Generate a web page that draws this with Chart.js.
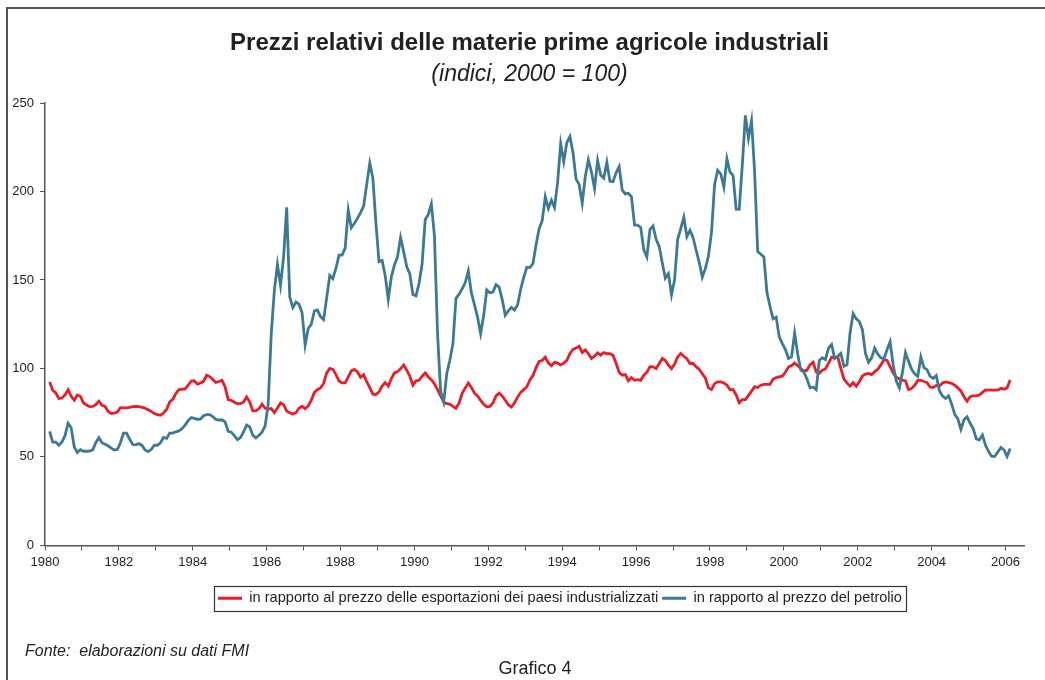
<!DOCTYPE html>
<html lang="it">
<head>
<meta charset="utf-8">
<title>Prezzi relativi delle materie prime agricole industriali</title>
<script src="https://cdn.jsdelivr.net/npm/chart.js@4.4.1/dist/chart.umd.min.js"></script>
<style>
  body { margin: 0; background: #fff; }
  #wrap { position: relative; width: 1045px; height: 680px; overflow: hidden; font-family: "Liberation Sans", Arial, Helvetica, sans-serif; color: #222; }
  #frame { position: absolute; left: 6px; top: 7px; width: 1100px; height: 700px; border-top: 2px solid #555; border-left: 2px solid #555; }
  #fonte { position: absolute; left: 25px; top: 641px; font-size: 16px; line-height: 20px; font-style: italic; white-space: pre; }
  #grafico { position: absolute; left: 435px; top: 658px; width: 200px; text-align: center; font-size: 18px; line-height: 20px; }
</style>
</head>
<body>
<div id="wrap">
  <canvas id="chart" width="1045" height="680"></canvas>
  <div id="frame"></div>
  <div id="fonte">Fonte:  elaborazioni su dati FMI</div>
  <div id="grafico">Grafico 4</div>
</div>
<script>
// dati mensili, da febbraio 1980 a febbraio 2006
const startYear = 1980;
const startMonth = 1; // 0 = gennaio

const labelYears = [1980, 1982, 1984, 1986, 1988, 1990, 1992, 1994, 1996, 1998, 2000, 2002, 2004, 2006];

const seriesNames = [
  'in rapporto al prezzo delle esportazioni dei paesi industrializzati',
  'in rapporto al prezzo del petrolio',
];

const vsExports = [
  92.4, 87.7, 86.2, 83, 83.3, 85, 88, 84.3, 82, 85,
  84.3, 80.5, 79.3, 78.4, 78.5, 79.5, 81.5, 79.2, 78.5, 75.7,
  74.5, 74.8, 75.3, 77.8, 77.7, 77.7, 78, 78.4, 78.6, 78.4,
  78, 77.5, 76.6, 75.7, 74.5, 73.9, 73.6, 74.8, 76.8, 81,
  82.5, 85.8, 88, 88.2, 88.4, 90.5, 92.8, 93, 91.2, 91.8,
  92.7, 96.2, 95.4, 93.8, 92.1, 92.6, 93.3, 89.6, 82.4, 82,
  80.9, 80.1, 80.1, 81, 83.9, 81, 76, 76, 77.3, 79.8,
  77.5, 77, 77.3, 75, 77.7, 80.5, 79.5, 76, 74.9, 74.2,
  75, 77.5, 78.6, 77.3, 78.8, 82, 86.5, 88, 89, 91.5,
  97.5, 100, 99.5, 96.5, 92.9, 91.8, 91.8, 95.2, 98.6, 99.4,
  98, 95, 96.5, 92.5, 89.2, 85.5, 85.3, 86.8, 90, 92,
  90, 94.3, 97.5, 98.3, 99.8, 102, 99, 95.6, 90.5, 93,
  93.3, 95.6, 97.5, 95.2, 93.6, 91.3, 88, 84.5, 81, 80.1,
  79.8, 78.6, 77.5, 80.5, 86, 89, 91.8, 89.3, 86, 84.5,
  82, 79.8, 78.3, 78.5, 80.5, 84.5, 86, 84.5, 82, 79.5,
  78.2, 80.5, 83.8, 86.5, 88, 89.5, 93.5, 96, 100.5, 104,
  104.5, 106.4, 103, 101.5, 103.5, 103, 102, 103, 104.5, 108.5,
  110.7, 111.5, 112.5, 109, 110.5, 108.3, 105.6, 106.9, 108.8, 107.5,
  109, 108.3, 108.4, 107.5, 103, 97.7, 96.2, 96.5, 93, 94.8,
  93.3, 93.7, 93.3, 96.2, 97.8, 101, 100.9, 99.9, 102.8, 105.6,
  104.5, 101.8, 99.9, 102.5, 106.5, 108.5, 106.9, 105.5, 102.8, 102.8,
  101, 99.5, 97, 94.5, 89, 88, 91.4, 92.4, 92.4, 91.8,
  90.5, 88, 88, 85, 80.6, 82.4, 82.4, 84.8, 87.2, 89.7,
  89.2, 90.5, 91, 91, 91, 94, 94.8, 95.2, 95.6, 97.8,
  100.8, 101.6, 103, 101.5, 100, 98.5, 99, 102, 103.5, 98,
  97.2, 99, 99.7, 103, 106.3, 106, 106.5, 100, 94, 91.8,
  90, 92, 90, 92.5, 95.7, 96.8, 97.2, 96.5, 98.2, 99.5,
  102, 105, 104.5, 101, 97.5, 95, 94.2, 93.4, 93, 88,
  88.7, 90.5, 93.2, 93.3, 92.6, 92, 89.5, 89.2, 90.4, 90,
  91.8, 92.4, 92, 91.6, 90.5, 89, 87.3, 84, 81.5, 84,
  84.5, 84.5, 85, 86.5, 87.8, 87.7, 87.7, 87.7, 87.7, 88.8,
  88.2, 89, 93.5,
];

const vsOil = [
  64.5, 58.4, 58.4, 56.6, 58.4, 62, 69, 66.5, 55.6, 52.5,
  54.1, 53.2, 53.2, 53.3, 54, 58, 60.9, 58, 57.2, 56.3,
  55, 53.9, 54.2, 58, 63.5, 63.5, 60, 57, 56.8, 57.5,
  56.5, 54, 53, 54.2, 56.6, 56.6, 58, 61, 60.5, 63.5,
  63.5, 64.2, 64.7, 66, 68, 70.5, 72.3, 71.8, 71.3, 71.4,
  73.3, 73.9, 73.9, 72.8, 71.2, 70.8, 71, 69.8, 64.5, 64,
  62, 59.8, 61, 64.1, 68, 67, 62.3, 60.8, 62.2, 64,
  67.5, 80, 120, 144, 158.8, 147, 163, 191, 140.5, 134.4,
  137.5, 136.3, 131.5, 113.1, 122.6, 125, 132.5, 133, 129.3, 127.6,
  140, 152.5, 150.8, 156.5, 164, 164, 168, 189.5, 179.5, 182,
  184.8, 188, 191.7, 204, 216, 207.5, 182, 160.3, 161, 152.5,
  139, 151.8, 158.5, 163, 174, 166, 157.5, 153.5, 141.8, 141,
  148, 159.3, 184, 187, 193, 175, 120, 87, 81, 97,
  104.6, 114, 139.6, 142, 145, 148.5, 155, 142.7, 136, 129,
  119.7, 130, 144.4, 142.8, 143.2, 147.3, 146, 139, 130, 132.5,
  134.5, 133, 135.8, 144.6, 151.5, 157.2, 157, 159.3, 169.7, 179,
  183.5, 197, 190.4, 195, 191, 205, 227, 216.8, 227.6, 231,
  222, 207, 204, 193.3, 208.5, 217.8, 211, 201.7, 217.5, 209.3,
  207.5, 216.5, 205.8, 205.5, 210.5, 214, 200.8, 198.6, 199, 197,
  181, 181, 179.7, 167, 163, 178.5, 180.5, 173, 169, 159.7,
  151, 153.5, 141.6, 150, 173, 179, 185.5, 174.5, 178, 174,
  166.8, 160, 151.5, 156.5, 163.5, 177, 204, 212, 210, 202.6,
  218.5, 211, 209, 190, 189.9, 215, 243, 230, 240, 211,
  166, 164.5, 163, 143, 135, 128, 129, 117.8, 114, 110.7,
  105.6, 106.5, 120, 108, 99, 98, 94, 89, 89.5, 88,
  104.5, 106, 105, 111.5, 113.5, 105.6, 107, 108.5, 101.2, 102,
  120, 131, 128, 126.5, 122, 108.5, 103.5, 106, 111.5, 108,
  106, 105.5, 110.5, 115, 102, 93, 89, 97.5, 109, 104,
  99.5, 97, 95.5, 106.5, 100.5, 99.3, 95.5, 94.3, 96, 87.5,
  84.5, 83, 84.5, 80, 74, 71.6, 65.5, 71, 72.6, 69,
  66, 60.2, 59.6, 62.3, 56.6, 53, 50.3, 50.3, 52.8, 55.3,
  54, 50.3, 54.7,
];

const RED = '#ea1d27';
const BLUE = '#3b7a92';
const FONT = '"Liberation Sans", Arial, Helvetica, sans-serif';

// each month sits in the middle of its slot on the time axis
const toPoints = (values) =>
  values.map((v, i) => ({ x: startYear + (startMonth + i + 0.5) / 12, y: v }));

// title and legend are a little right of the plot centre in the original;
// the legend also has a box round it
const TITLE_SHIFT = 17.5;
const LEGEND_SHIFT = 48;
const shiftBox = (box, dx) => {
  box.left += dx;
  box.right += dx;
};
const legendBox = {
  id: 'legendBox',
  afterUpdate(chart) {
    chart.boxes.forEach((b) => {
      if (b.options && typeof b.options.text === 'string' && b.position === 'top') shiftBox(b, TITLE_SHIFT);
    });
    const legend = chart.legend;
    if (!legend) return;
    shiftBox(legend, LEGEND_SHIFT);
    legend.legendHitBoxes.forEach((b) => { b.left += LEGEND_SHIFT; });
  },
  afterDraw(chart) {
    const boxes = chart.legend && chart.legend.legendHitBoxes;
    if (!boxes || !boxes.length) return;
    const left = Math.min(...boxes.map((b) => b.left)) - 4;
    const right = Math.max(...boxes.map((b) => b.left + b.width)) + 4;
    const top = boxes[0].top - 5;
    const bottom = boxes[0].top + boxes[0].height + 5;
    const ctx = chart.ctx;
    ctx.save();
    ctx.strokeStyle = '#333';
    ctx.lineWidth = 1.2;
    ctx.strokeRect(Math.round(left) + 0.5, Math.round(top) + 0.5, Math.round(right - left), Math.round(bottom - top));
    ctx.restore();
  },
};

const ctx = document.getElementById('chart').getContext('2d');

new Chart(ctx, {
  type: 'line',
  data: {
    datasets: [
      {
        label: seriesNames[0],
        data: toPoints(vsExports),
        borderColor: RED,
        backgroundColor: RED,
        borderWidth: 2.8,
        pointRadius: 0,
        tension: 0,
        order: 1,
      },
      {
        label: seriesNames[1],
        data: toPoints(vsOil),
        borderColor: BLUE,
        backgroundColor: BLUE,
        borderWidth: 2.8,
        pointRadius: 0,
        tension: 0,
        order: 0,
      },
    ],
  },
  options: {
    responsive: false,
    animation: false,
    events: [],
    layout: {
      padding: { top: 16, left: 0, right: 21, bottom: 64.5 },
    },
    scales: {
      x: {
        type: 'linear',
        min: 1980,
        max: 2006.5,
        afterFit: (scale) => { scale.height = 41.5; },
        grid: { drawOnChartArea: false, drawTicks: true, tickLength: 5, tickColor: '#555' },
        border: { color: '#555', width: 1.5 },
        ticks: {
          stepSize: 1,
          autoSkip: false,
          includeBounds: false,
          maxRotation: 0,
          padding: 4,
          color: '#222',
          font: { family: FONT, size: 13 },
          callback: (v) => (labelYears.includes(v) ? String(v) : ''),
        },
      },
      y: {
        min: 0,
        max: 250,
        afterFit: (scale) => { scale.width = 45; },
        grid: { drawOnChartArea: false, drawTicks: true, tickLength: 5, tickColor: '#555' },
        border: { color: '#555', width: 1.5 },
        ticks: {
          stepSize: 50,
          padding: 6,
          color: '#222',
          font: { family: FONT, size: 13 },
        },
      },
    },
    plugins: {
      title: {
        display: true,
        text: 'Prezzi relativi delle materie prime agricole industriali',
        color: '#222',
        font: { family: FONT, size: 24, weight: 'bold', lineHeight: 1.2 },
        padding: { top: 12.6, bottom: 0 },
      },
      subtitle: {
        display: true,
        text: '(indici, 2000 = 100)',
        color: '#222',
        font: { family: FONT, size: 23, style: 'italic', lineHeight: 1.2 },
        padding: { top: 3.5, bottom: 14.5 },
      },
      legend: {
        position: 'bottom',
        onClick: null,
        labels: {
          color: '#222',
          font: { family: FONT, size: 14.6 },
          boxWidth: 24,
          boxHeight: 3,
          padding: 4,
          sort: (a, b) => a.datasetIndex - b.datasetIndex,
          generateLabels: (chart) =>
            Chart.defaults.plugins.legend.labels.generateLabels(chart).map((l) => ({
              ...l,
              lineWidth: 0,
              fillStyle: l.strokeStyle,
            })),
        },
      },
      tooltip: { enabled: false },
    },
  },
  plugins: [legendBox],
});
</script>
</body>
</html>
